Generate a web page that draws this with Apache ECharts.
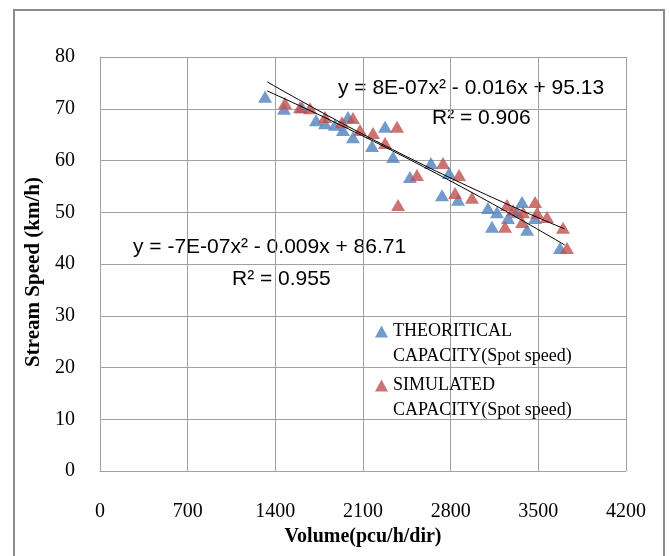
<!DOCTYPE html>
<html>
<head>
<meta charset="utf-8">
<script src="https://cdn.jsdelivr.net/npm/echarts@6/dist/echarts.min.js"></script>
<style>
html,body{margin:0;padding:0;background:#fff;}
#chart{width:669px;height:556px;}
</style>
</head>
<body>
<div id="chart"></div>
<script>
// Theoretical capacity (spot speed): [volume pcu/h/dir, stream speed km/h]
var theoreticalVolume = [1318,1469,1613,1725,1797,1876,1940,1980,2020,2172,2276,2340,2475,2643,2787,2731,2859,3098,3170,3130,3258,3370,3330,3410,3474,3673];
var theoreticalSpeed  = [72.3,70.0,70.3,67.8,67.2,66.9,65.9,68.4,64.5,62.8,66.5,60.7,56.8,59.5,57.6,53.3,52.4,50.8,50.0,47.2,48.9,52.0,50.0,46.6,48.9,43.1];
// Simulated capacity (spot speed)
var simulatedVolume = [1477,1597,1677,1797,1932,2020,2076,2180,2276,2372,2531,2380,2739,2867,2835,2970,3250,3298,3234,3378,3370,3474,3490,3569,3697,3729];
var simulatedSpeed  = [71.1,70.3,70.1,68.4,67.4,68.2,65.9,65.3,63.4,66.5,57.2,51.4,59.5,57.2,53.7,52.8,51.4,50.4,47.2,50.0,48.1,52.0,49.9,49.1,47.0,43.1];
// Polynomial trendline coefficients as displayed on the chart [a, b, c] for y = a x^2 + b x + c
var trendSimulated = [8e-7, -0.016, 95.13];
var trendTheoretical = [-7e-7, -0.009, 86.71];
var trendRange = [1336, 3710];
var xTicks = {min: 0, max: 4200, interval: 700};
var yTicks = {min: 0, max: 80, interval: 10};
var legendNames = ['THEORITICAL\nCAPACITY(Spot speed)', 'SIMULATED\nCAPACITY(Spot speed)'];

function pairs(xs, ys){ return xs.map(function(x,i){ return [x, ys[i]]; }); }
function trend(c){
  var pts = [];
  for (var x = trendRange[0]; x <= trendRange[1]; x += 50) pts.push([x, c[0]*x*x + c[1]*x + c[2]]);
  var xe = trendRange[1]; pts.push([xe, c[0]*xe*xe + c[1]*xe + c[2]]);
  return pts;
}

var chart = echarts.init(document.getElementById('chart'), null, {renderer:'canvas'});
var gridColor = '#a0a0a0';
var serif = '"Liberation Serif", "Times New Roman", serif';
var sans = '"Liberation Sans", Arial, sans-serif';
chart.setOption({
  animation: false,
  backgroundColor: '#fff',
  grid: {left: 100, top: 57, right: 43, bottom: 85, show: false},
  xAxis: {
    type: 'value', min: xTicks.min, max: xTicks.max, interval: xTicks.interval,
    name: 'Volume(pcu/h/dir)', nameLocation: 'middle', nameGap: 54,
    nameTextStyle: {fontFamily: serif, fontWeight: 'bold', fontSize: 20, color: '#000'},
    axisLine: {show: true, lineStyle: {color: gridColor, width: 1}},
    axisTick: {show: false},
    axisLabel: {margin: 31, fontFamily: serif, fontSize: 20, color: '#000', formatter: function(v){ return String(v); }},
    splitLine: {show: true, lineStyle: {color: gridColor, width: 1}}
  },
  yAxis: {
    type: 'value', min: yTicks.min, max: yTicks.max, interval: yTicks.interval,
    name: 'Stream Speed (km/h)', nameLocation: 'middle', nameGap: 49,
    nameTextStyle: {fontFamily: serif, fontWeight: 'bold', fontSize: 21, color: '#000', padding: [0, 16, 0, 0]},
    axisLine: {show: true, lineStyle: {color: gridColor, width: 1}},
    axisTick: {show: false},
    axisLabel: {margin: 25, fontFamily: serif, fontSize: 20, color: '#000'},
    splitLine: {show: true, lineStyle: {color: gridColor, width: 1}}
  },
  legend: {
    orient: 'vertical', left: 370, top: 289, itemGap: -21,
    itemWidth: 13, itemHeight: 12, icon: 'triangle',
    data: legendNames,
    formatter: function(name){ return ' \n' + name; },
    textStyle: {fontFamily: serif, fontSize: 18, color: '#000', lineHeight: 25}
  },
  series: [
    {name: 'trend-theoretical', type: 'line', data: trend(trendTheoretical), showSymbol: false, symbol: 'none',
     lineStyle: {color: '#000', width: 1}, silent: true, z: 3},
    {name: 'trend-simulated', type: 'line', data: trend(trendSimulated), showSymbol: false, symbol: 'none',
     lineStyle: {color: '#000', width: 1}, silent: true, z: 3},
    {name: legendNames[0], type: 'scatter', symbol: 'triangle', symbolSize: [14, 12],
     data: pairs(theoreticalVolume, theoreticalSpeed), itemStyle: {color: '#4F81BD'}, z: 2},
    {name: legendNames[1], type: 'scatter', symbol: 'triangle', symbolSize: [14, 12],
     data: pairs(simulatedVolume, simulatedSpeed), itemStyle: {color: '#C0504D'}, z: 2}
  ],
  graphic: [
    {type: 'rect', shape: {x: 14, y: 10, width: 650, height: 580}, style: {fill: null, stroke: '#8c8c8c', lineWidth: 2}, silent: true},
    {type: 'text', left: 338, top: 78, style: {text: 'y = 8E-07x² - 0.016x + 95.13', font: '21px ' + sans, fill: '#000'}},
    {type: 'text', left: 432, top: 108, style: {text: 'R² = 0.906', font: '21px ' + sans, fill: '#000'}},
    {type: 'text', left: 133, top: 237, style: {text: 'y = -7E-07x² - 0.009x + 86.71', font: '21px ' + sans, fill: '#000'}},
    {type: 'text', left: 232, top: 269, style: {text: 'R² = 0.955', font: '21px ' + sans, fill: '#000'}}
  ]
});
</script>
</body>
</html>
